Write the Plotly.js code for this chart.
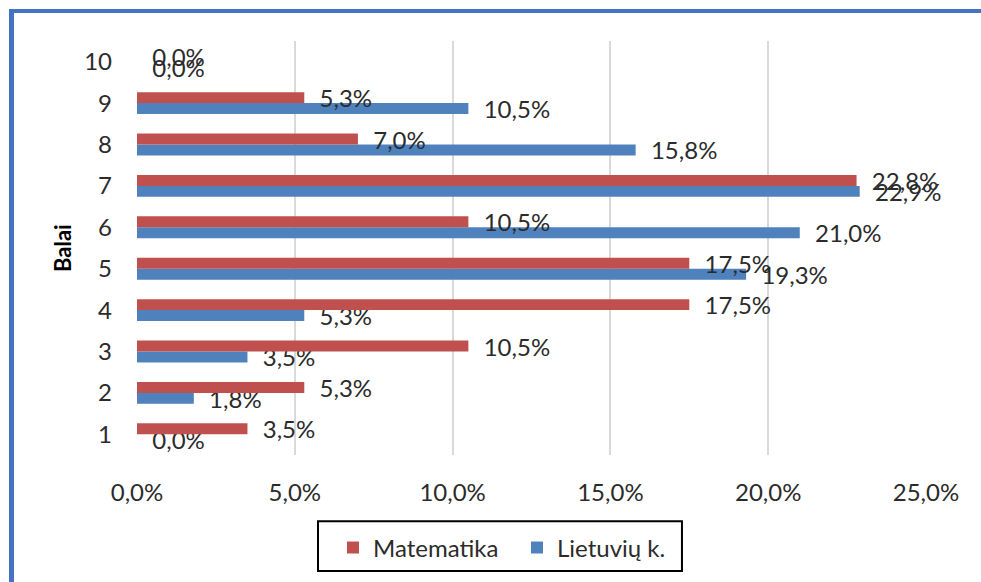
<!DOCTYPE html>
<html>
<head>
<meta charset="utf-8">
<script src="https://cdn.plot.ly/plotly-3.0.1.min.js"></script>
<style>
  html, body { margin: 0; padding: 0; background: #ffffff; }
  #wrap { position: relative; width: 981px; height: 582px; overflow: hidden; }
  #chart { position: absolute; left: 0; top: 0; width: 981px; height: 582px; }
  #frame { position: absolute; left: 9px; top: 9px; width: 1000px; height: 600px;
           border-top: 4px solid #4472C4; border-left: 5px solid #4472C4; pointer-events: none; }
</style>
</head>
<body>
<div id="wrap">
  <div id="chart"></div>
  <div id="frame"></div>
</div>
<script>
const categories = ['1', '2', '3', '4', '5', '6', '7', '8', '9', '10'];
const matematika = [3.5, 5.3, 10.5, 17.5, 17.5, 10.5, 22.8, 7.0, 5.3, 0.0];
const lietuviu = [0.0, 1.8, 3.5, 5.3, 19.3, 21.0, 22.9, 15.8, 10.5, 0.0];
const seriesNames = ['Matematika', 'Lietuvių k.'];
const xTicks = [0, 5, 10, 15, 20, 25];

const pct = v => v.toFixed(1).replace('.', ',') + '%';
const lbl = v => '\u00A0\u00A0' + pct(v);
const FONT = 'Lato, "Open Sans", sans-serif';
const TXT = '#2b2b2b';
const FS = 24;

const traceLt = {
  type: 'bar', orientation: 'h', name: seriesNames[1],
  y: categories, x: lietuviu,
  marker: { color: '#4F81BD' },
  text: lietuviu.map(lbl), textposition: 'outside', constraintext: 'none',
  cliponaxis: false, textfont: { family: FONT, size: FS, color: TXT },
  hoverinfo: 'none'
};
const traceMat = {
  type: 'bar', orientation: 'h', name: seriesNames[0],
  y: categories, x: matematika,
  marker: { color: '#C0504D' },
  text: matematika.map(lbl), textposition: 'outside', constraintext: 'none',
  cliponaxis: false, textfont: { family: FONT, size: FS, color: TXT },
  hoverinfo: 'none'
};

const layout = {
  width: 981, height: 582,
  margin: { l: 137, r: 55, t: 41, b: 123 },
  paper_bgcolor: '#ffffff', plot_bgcolor: '#ffffff',
  font: { family: FONT, size: FS, color: TXT },
  separators: ', ',
  barmode: 'group', bargap: 0.47, bargroupgap: 0,
  showlegend: true,
  legend: {
    orientation: 'h', traceorder: 'reversed',
    x: 0.2484, xanchor: 'left', y: -0.17, yanchor: 'top',
    borderwidth: 0, bgcolor: 'rgba(0,0,0,0)',
    entrywidth: 139,
    font: { family: FONT, size: FS, color: TXT }
  },
  shapes: [{
    type: 'rect', xref: 'paper', yref: 'paper',
    x0: 0.2294, x1: 0.6907, y0: -0.28, y1: -0.1603,
    line: { color: '#000000', width: 2 }, fillcolor: 'rgba(0,0,0,0)'
  }],
  xaxis: {
    range: [0, 25], tickmode: 'array', tickvals: xTicks, ticktext: xTicks.map(pct),
    showgrid: true, gridcolor: '#D9D9D9', gridwidth: 2, zeroline: false,
    showline: false, ticks: '', ticklabelstandoff: 21,
    tickfont: { family: FONT, size: FS, color: TXT }, fixedrange: true
  },
  yaxis: {
    type: 'category', showgrid: false, zeroline: false, showline: false,
    ticks: '', ticklabelstandoff: 24,
    tickfont: { family: FONT, size: FS, color: TXT }, fixedrange: true
  },
  annotations: [{
    text: '<b>Balai</b>', textangle: -90, xref: 'paper', yref: 'paper',
    x: -0.095, y: 0.5, xanchor: 'center', yanchor: 'middle', showarrow: false,
    font: { family: FONT, size: 22, color: '#000000' }
  }]
};

Plotly.newPlot('chart', [traceLt, traceMat], layout, { staticPlot: true, displayModeBar: false });
</script>
</body>
</html>
